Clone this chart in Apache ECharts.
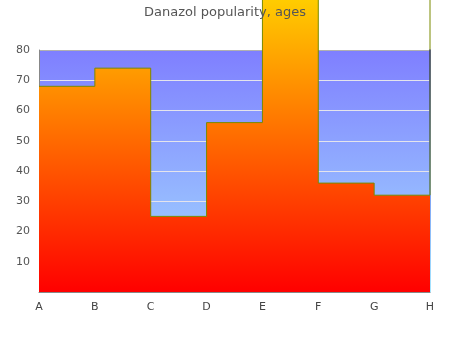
<!DOCTYPE html>
<html>
<head>
<meta charset="utf-8">
<script src="https://cdn.jsdelivr.net/npm/echarts@6/dist/echarts.min.js"></script>
<style>html,body{margin:0;padding:0;background:#fff}#c{width:450px;height:350px}</style>
</head>
<body>
<div id="c"></div>
<script>
var categories = ['A','B','C','D','E','F','G','H'];
var values = [68, 74, 25, 56, 100, 36, 32, 100];
var yTicks = [0, 10, 20, 30, 40, 50, 60, 70, 80];
var titleText = 'Danazol popularity, ages';

var chart = echarts.init(document.getElementById('c'), null, {renderer: 'canvas'});
var font = 'DejaVu Sans';
var gridColors = yTicks.map(function (v, i) { return i === yTicks.length - 1 ? '#b0b0b0' : '#e4e4ec'; });
chart.setOption({
  animation: false,
  title: {
    text: titleText, left: 'center', top: 1,
    textStyle: {color: '#555', fontSize: 13, fontWeight: 'normal', fontFamily: font}
  },
  grid: {
    left: 39, right: 20, top: 50, bottom: 58,
    show: true,
    borderWidth: 0,
    backgroundColor: new echarts.graphic.LinearGradient(0, 0, 0, 1, [
      {offset: 0, color: '#7f7fff'},
      {offset: 1, color: '#a3dcff'}
    ])
  },
  xAxis: {
    type: 'category', data: categories, boundaryGap: false,
    axisLine: {show: true, lineStyle: {color: '#888', width: 1}},
    axisTick: {show: false},
    axisLabel: {color: '#444', fontSize: 11, fontFamily: font, margin: 10},
    splitLine: {show: false}
  },
  yAxis: [{
    type: 'value', min: yTicks[0], max: yTicks[yTicks.length - 1], interval: 10,
    axisLine: {show: true, lineStyle: {color: '#888', width: 1}},
    axisTick: {show: false},
    axisLabel: {color: '#555', fontSize: 11, fontFamily: font, margin: 9,
      formatter: function (v) { return v === 0 ? '' : String(v); }},
    splitLine: {show: true, lineStyle: {color: gridColors, width: 1}}
  }, {
    type: 'value', min: yTicks[0], max: yTicks[yTicks.length - 1], interval: 10,
    position: 'right',
    axisLine: {show: true, lineStyle: {width: 1.5, color: new echarts.graphic.LinearGradient(0, 50, 0, 292, [
      {offset: 0, color: '#0000dd'},
      {offset: 1, color: '#88ddff'}
    ], true)}},
    axisTick: {show: false}, axisLabel: {show: false}, splitLine: {show: false}
  }],
  series: [{
    type: 'line',
    data: values,
    step: 'end',
    clip: false,
    symbol: 'none',
    z: 3,
    lineStyle: {color: '#7a8a00', width: 1},
    areaStyle: {
      opacity: 1,
      color: new echarts.graphic.LinearGradient(0, 292, 0, 0, [
        {offset: 0, color: '#ff0000'},
        {offset: 1, color: '#ffcc00'}
      ], true)
    }
  }]
});
</script>
</body>
</html>
